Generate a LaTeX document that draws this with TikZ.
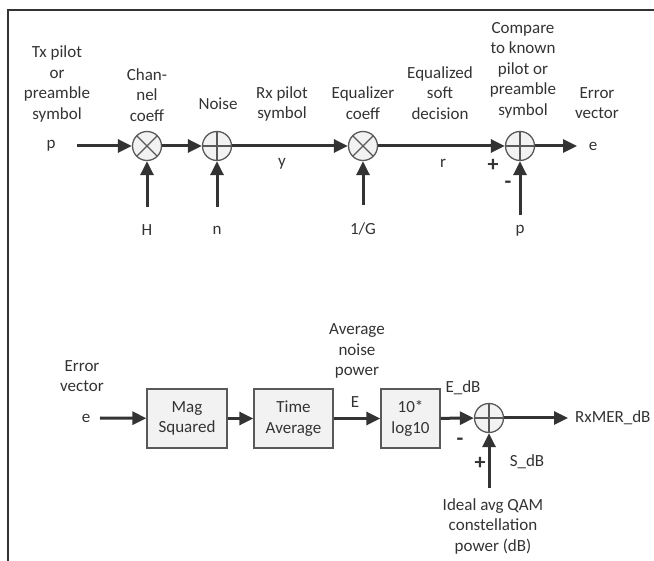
\documentclass[tikz,border=0pt]{standalone}
\usepackage{fontspec}
\setmainfont{Carlito}
\usepackage{tikz}
\usetikzlibrary{arrows.meta,shapes}

\definecolor{ink}{HTML}{333333}
\definecolor{edge}{HTML}{595959}
\definecolor{pale}{HTML}{F2F2F2}

\begin{document}
\begin{tikzpicture}[x=1pt,y=1pt]
    \tikzstyle{every node}+=[inner sep=0pt, text=ink, align=center, font=\fontsize{17}{20.5}\selectfont]
    \tikzstyle{sig}=[ink, line width=3pt, -{Triangle[length=14pt,width=13pt]}]
    \tikzstyle{sign}=[font=\fontsize{22}{22}\selectfont\bfseries]
    \tikzstyle{junc}=[circle, draw=edge, fill=pale, line width=1.3pt, minimum size=29pt]
    \tikzstyle{plusj}=[junc, path picture={\draw [edge, line width=1.3pt]
        (path picture bounding box.north) -- (path picture bounding box.south)
        (path picture bounding box.west) -- (path picture bounding box.east);}]
    \tikzstyle{timesj}=[junc, path picture={\draw [edge, line width=1.3pt]
        (path picture bounding box.center) ++(45:15) -- ++(225:30)
        (path picture bounding box.center) ++(135:15) -- ++(315:30);}]
    \tikzstyle{blk}=[rectangle, draw=edge, fill=pale, line width=1.3pt, minimum height=59pt]
    \useasboundingbox (0,0) rectangle (654,-561);
    \draw [black!80, line width=1.8pt] (8,-561) -- (8,-10) -- (654,-10);
    % top row: pilot through channel and equalizer
    \node (txlbl) at (57,-84) {Tx pilot\\or\\preamble\\symbol};
    \node (pin) at (51,-146) {p};
    \coordinate (pstart) at (77,-146);
    \node [timesj] (chan) at (147,-146) {};
    \node [plusj] (noise) at (217,-146) {};
    \node [timesj] (equ) at (363,-146) {};
    \node [plusj] (cmp) at (520,-146) {};
    \coordinate (eend) at (577,-146);
    \node (eout) at (593,-146) {e};
    \node (chanlbl) at (147,-95) {Chan-\\nel\\coeff};
    \node (noiselbl) at (218,-104) {Noise};
    \node (rxlbl) at (282,-104) {Rx pilot\\symbol};
    \node (ylbl) at (282,-164) {y};
    \node (equlbl) at (363,-103) {Equalizer\\coeff};
    \node (softlbl) at (440,-93) {Equalized\\soft\\decision};
    \node (rlbl) at (443,-163) {r};
    \node (cmplbl) at (523,-70) {Compare\\to known\\pilot or\\preamble\\symbol};
    \node (errlbl) at (597,-103) {Error\\vector};
    \node [sign] (cmpplus) at (493,-165) {+};
    \node [sign] (cmpminus) at (508,-185) {-};
    \coordinate (hstart) at (147,-207);
    \coordinate (nstart) at (217,-207);
    \coordinate (gstart) at (363,-205);
    \coordinate (pstart2) at (520,-215);
    \node (hlbl) at (147,-230) {H};
    \node (nlbl) at (217,-230) {n};
    \node (glbl) at (363,-229) {1/G};
    \node (plbl) at (520,-231) {p};
    \draw [sig] (pstart) -- (chan);
    \draw [sig] (chan) -- (noise);
    \draw [sig] (noise) -- (equ);
    \draw [sig] (equ) -- (cmp);
    \draw [sig] (cmp) -- (eend);
    \draw [sig] (hstart) -- (chan);
    \draw [sig] (nstart) -- (noise);
    \draw [sig] (gstart) -- (equ);
    \draw [sig] (pstart2) -- (cmp);
    % bottom row: error vector to RxMER
    \node (errlbl2) at (82,-376) {Error\\vector};
    \node (ein) at (86,-418) {e};
    \coordinate (estart) at (100,-418);
    \node [blk, minimum width=80pt] (mag) at (187,-418.5) {Mag\\Squared};
    \node [blk, minimum width=79pt] (tavg) at (293.5,-418.5) {Time\\Average};
    \node [blk, minimum width=59pt] (logb) at (410.5,-418.5) {10*\\log10};
    \node [plusj] (mer) at (489,-418) {};
    \coordinate (merend) at (568,-418);
    \node [anchor=west] (merlbl) at (575,-418) {RxMER\_dB};
    \node (avglbl) at (357,-351) {Average\\noise\\power};
    \node (elbl) at (355,-402) {E};
    \node (edblbl) at (463,-388) {E\_dB};
    \node [sign] (merminus) at (460,-442) {-};
    \node [sign] (merplus) at (480,-463) {+};
    \node (sdblbl) at (527,-462) {S\_dB};
    \coordinate (sstart) at (489,-488);
    \node (ideallbl) at (493,-526) {Ideal avg QAM\\constellation\\power (dB)};
    \draw [sig] (estart) -- (mag);
    \draw [sig] (mag) -- (tavg);
    \draw [sig] (tavg) -- (logb);
    \draw [sig] (logb) -- (mer);
    \draw [sig] (mer) -- (merend);
    \draw [sig] (sstart) -- (mer);
\end{tikzpicture}
\end{document}
